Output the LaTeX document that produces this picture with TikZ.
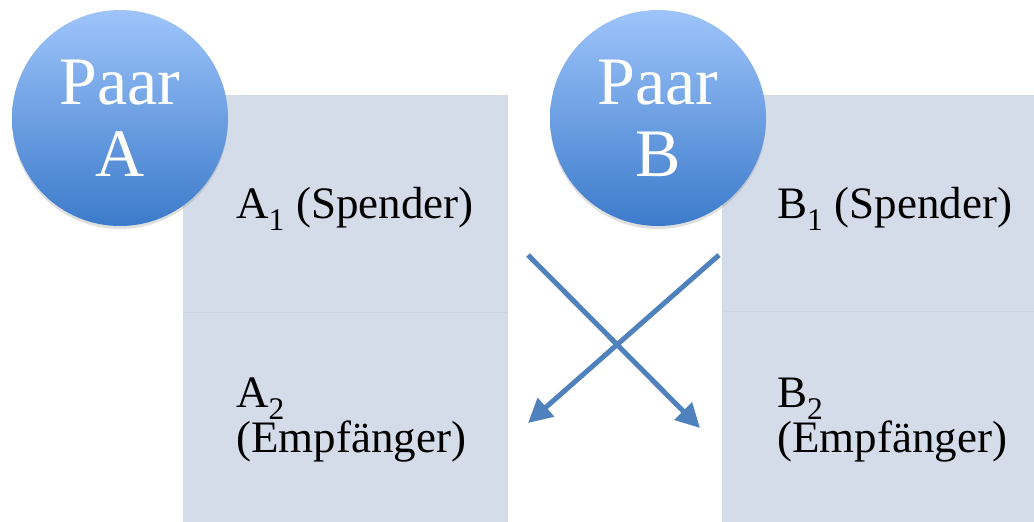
\documentclass[tikz,border=0pt]{standalone}
\usepackage{fontspec}
\setmainfont{Liberation Serif}
\usepackage{xcolor}
\usetikzlibrary{
  positioning,
  arrows.meta,
  shadows
}
\definecolor{paneFill}{HTML}{D5DCE9}
\definecolor{paneLine}{HTML}{CBD3E2}
\definecolor{paarTop}{HTML}{9EC4FA}
\definecolor{paarBottom}{HTML}{3C7BCB}
\definecolor{swapBlue}{HTML}{4F81BD}
\tikzset{
  pane/.style={fill=paneFill},
  paar/.style={circle, minimum size=216pt, inner sep=0pt,
    top color=paarTop, bottom color=paarBottom, text=white,
    align=center, font=\fontsize{68}{72}\selectfont,
    drop shadow={opacity=0.25, shadow xshift=0pt, shadow yshift=-3pt}},
  rolle/.style={anchor=base west, align=left, inner sep=0pt,
    font=\fontsize{45}{42}\selectfont},
  swap/.style={draw=swapBlue, line width=5pt,
    -{Triangle[length=24pt,width=24pt]}}
}

\begin{document}
\begin{tikzpicture}[x=1pt,y=-1pt]
  \useasboundingbox (0,0) rectangle (1034,522);

  % Felder
  \fill[pane] (183,95) rectangle (508,522);
  \fill[pane] (722,95) rectangle (1034,522);
  \draw[paneLine] (183,312) -- (508,312);
  \draw[paneLine] (722,311) -- (1034,311);

  % Paare
  \node[paar] (paarA) at (120,118) {Paar\\A};
  \node[paar] (paarB) at (658,118) {Paar\\B};

  % Rollen
  \node[rolle] (spenderA) at (236,218) {A\textsubscript{1} (Spender)};
  \node[rolle] (empfA) at (236,452) {A\textsubscript{2}\\(Empfänger)};
  \node[rolle] (spenderB) at (777,218) {B\textsubscript{1} (Spender)};
  \node[rolle] (empfB) at (777,452) {B\textsubscript{2}\\(Empfänger)};

  % Ueberkreuzspende
  \coordinate (vonA) at (528,255);
  \coordinate (zuB) at (700,428);
  \coordinate (vonB) at (719,255);
  \coordinate (zuA) at (528,423);
  \draw[swap] (vonA) -- (zuB);
  \draw[swap] (vonB) -- (zuA);
\end{tikzpicture}
\end{document}
